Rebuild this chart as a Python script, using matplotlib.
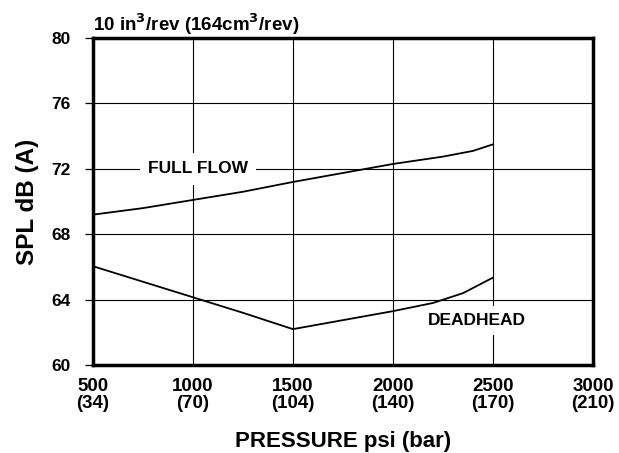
import matplotlib.pyplot as plt

plt.rcParams['font.family'] = ['Liberation Sans', 'DejaVu Sans']
plt.rcParams['font.weight'] = 'bold'

# chart data
psi = [500, 1000, 1500, 2000, 2500, 3000]
bar = [34, 70, 104, 140, 170, 210]
spl_ticks = [60, 64, 68, 72, 76, 80]

ff_psi = [500, 750, 1000, 1250, 1500, 1750, 2000, 2250, 2400, 2500]
ff_spl = [69.2, 69.6, 70.1, 70.6, 71.2, 71.75, 72.3, 72.75, 73.1, 73.5]

dh_psi = [500, 750, 1000, 1250, 1500, 1750, 2000, 2200, 2350, 2500]
dh_spl = [66.05, 65.1, 64.15, 63.2, 62.2, 62.75, 63.3, 63.8, 64.4, 65.35]

fig = plt.figure(figsize=(6.19, 4.53), dpi=100)
ax = fig.add_axes([0.150, 0.194, 0.808, 0.722])

ax.plot(ff_psi, ff_spl, color='black', lw=1.3, zorder=3)
ax.plot(dh_psi, dh_spl, color='black', lw=1.3, zorder=3)

ax.set_xlim(500, 3000)
ax.set_ylim(60, 80)
ax.set_xticks(psi)
ax.set_xticklabels([f'{p}\n({b})' for p, b in zip(psi, bar)], fontsize=13.5,
                   fontweight='bold', linespacing=1.0)
ax.set_yticks(spl_ticks)
ax.set_yticklabels([str(v) for v in spl_ticks], fontsize=12.5, fontweight='bold')
ax.tick_params(axis='x', length=0, pad=9)
ax.tick_params(axis='y', length=6, width=0.9, pad=10)
ax.grid(True, color='black', lw=0.8)
for s in ax.spines.values():
    s.set_linewidth(2.5)

ax.text(1025, 72, 'FULL FLOW', ha='center', va='center', fontsize=12.5,
        fontweight='bold', zorder=4,
        bbox=dict(facecolor='white', edgecolor='none', pad=6))
ax.text(2420, 62.75, 'DEADHEAD', ha='center', va='center', fontsize=12.5,
        fontweight='bold', zorder=4,
        bbox=dict(facecolor='white', edgecolor='none', pad=5))

ax.set_xlabel('PRESSURE psi (bar)', fontsize=16, fontweight='bold', labelpad=14)
ax.set_ylabel('SPL dB (A)', fontsize=17.5, fontweight='bold', labelpad=9)
ax.set_title(r'10 in$^\mathbf{3}$/rev (164cm$^\mathbf{3}$/rev)', fontsize=13.5,
             fontweight='bold', loc='left', x=0.0, pad=5)

fig.savefig('out.png', dpi=100)
